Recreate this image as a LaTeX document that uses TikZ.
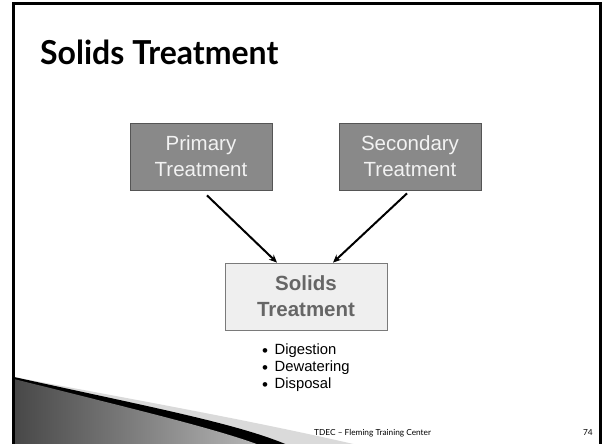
\documentclass[tikz,border=0pt]{standalone}
\usepackage{fontspec}
\setmainfont{Liberation Sans}
\newfontfamily\titlefont{Lato}
\usetikzlibrary{calc,arrows.meta}
\definecolor{darkbox}{HTML}{898989}
\definecolor{darkedge}{HTML}{555555}
\definecolor{lightbox}{HTML}{EFEFEF}
\definecolor{lightedge}{HTML}{7A7A7A}
\definecolor{solidtext}{HTML}{666666}
\definecolor{bandlight}{HTML}{DADADA}
\newcommand{\listdot}{\smash{\raisebox{-2.2pt}{\fontsize{17}{17}\selectfont\textbullet}}\hspace{6.5pt}}
\tikzset{
  stagebox/.style={draw=darkedge, line width=0.8pt, fill=darkbox, text=white!95!black,
    minimum width=142, minimum height=67, inner sep=0pt, align=center,
    font=\fontsize{20.5}{26}\selectfont},
  solidsbox/.style={draw=lightedge, line width=0.8pt, fill=lightbox, text=solidtext,
    minimum width=162, minimum height=67, inner sep=0pt, align=center,
    font=\bfseries\fontsize{20.5}{26}\selectfont},
  feed/.style={line width=2pt, -{Stealth[length=8pt,width=7pt]}},
  bulletline/.style={anchor=base west, inner sep=0pt, font=\fontsize{14.8}{17}\selectfont},
  footnotetext/.style={inner sep=0pt, font=\titlefont\fontsize{8.3}{10}\selectfont}
}
\begin{document}
\begin{tikzpicture}[x=1pt,y=-1pt]
\useasboundingbox (0,0) rectangle (602,444);
\clip (0,0) rectangle (602,444);
\fill[white] (0,0) rectangle (602,444);

% decorative swoosh in the lower left corner
\fill[bandlight] (14,377) .. controls (120,397) and (250,420) .. (362,446) -- (14,446) -- cycle;
\fill[black] (14,377) .. controls (150,407) and (240,424) .. (290,446) -- (14,446) -- cycle;
\shade[left color=black!72, right color=black!28]
  (14,379) .. controls (150,413) and (220,430) .. (262,446) -- (14,446) -- cycle;

% slide frame
\draw[line width=3pt] (13.5,460) -- (13.5,4) -- (600.5,4) -- (600.5,460);

% title
\node[anchor=base west, inner sep=0pt, font=\titlefont\bfseries\fontsize{33}{36}\selectfont,
  xscale=0.97, transform shape] (title) at (40,65) {Solids Treatment};

% process boxes
\node[stagebox] (primary) at (201,156.5) {Primary\\Treatment};
\node[stagebox] (secondary) at (410,156.5) {Secondary\\Treatment};
\node[solidsbox] (solids) at (306,296.5) {Solids\\Treatment};

\draw[feed] ($(primary.south)+(6,5)$) -- ($(solids.north)+(-29,0)$);
\draw[feed] ($(secondary.south)+(-3,3)$) -- ($(solids.north)+(27,0)$);

% list under the solids box
\node[bulletline] (l1) at (262,354) {\listdot Digestion};
\node[bulletline] (l2) at (262,371) {\listdot Dewatering};
\node[bulletline] (l3) at (262,388) {\listdot Disposal};

% footer
\node[footnotetext, anchor=base west] (footer) at (314,435) {TDEC – Fleming Training Center};
\node[footnotetext, anchor=base east] (page) at (593,435) {74};
\end{tikzpicture}
\end{document}
